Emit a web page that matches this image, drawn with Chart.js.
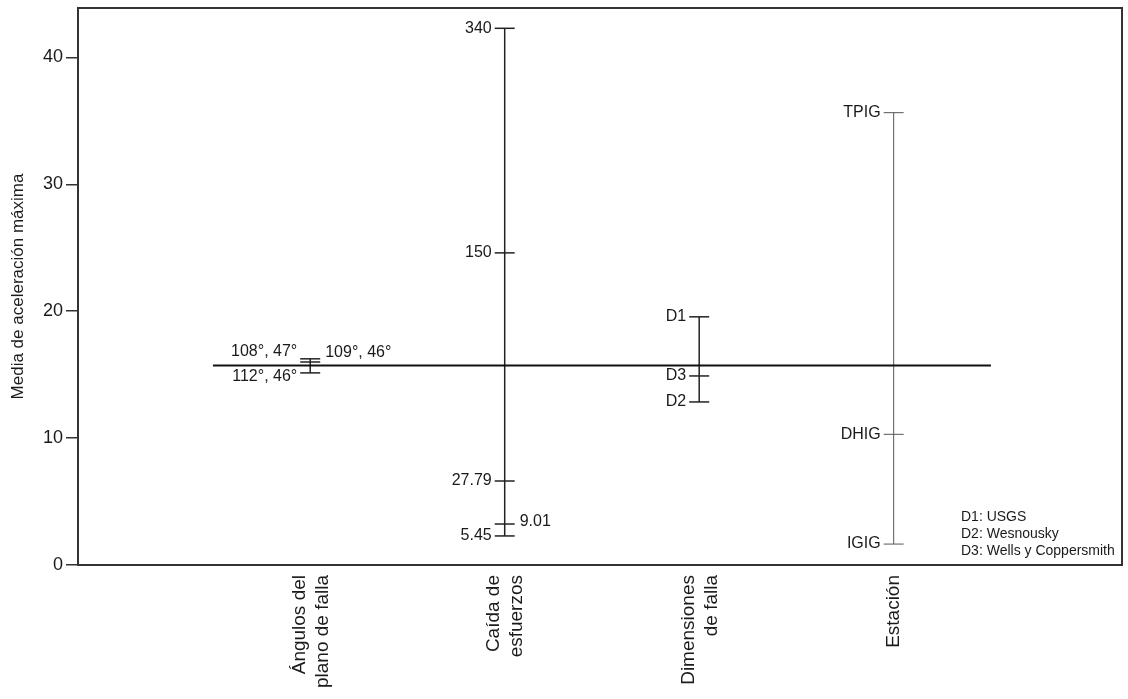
<!DOCTYPE html>
<html>
<head>
<meta charset="utf-8">
<script src="https://cdn.jsdelivr.net/npm/chart.js@4"></script>
<style>
  html, body { margin: 0; padding: 0; background: #fff; }
  canvas { display: block; }
</style>
</head>
<body>
<canvas id="c" width="1128" height="699"></canvas>
<script>
const FONT = '"Liberation Sans", Arial, sans-serif';

// categories on the x axis (positions 1..4)
const categories = [
  ['Ángulos del', 'plano de falla'],
  ['Caída de', 'esfuerzos'],
  ['Dimensiones', 'de falla'],
  'Estación'
];
const yTicks = [0, 10, 20, 30, 40];

// values (mean peak acceleration)
const anglesValues = [15.14, 16.0, 16.25];
const anglesLabels = ['112°, 46°', '108°, 47°', '109°, 46°'];

const stressValues = [2.29, 3.23, 6.62, 24.6, 42.3];
const stressLabels = ['5.45', '9.01', '27.79', '150', '340'];

const dimValues = [12.85, 14.9, 19.56];
const dimLabels = ['D2', 'D3', 'D1'];

const stationValues = [1.65, 10.3, 35.65];
const stationLabels = ['IGIG', 'DHIG', 'TPIG'];

const meanValue = 15.73;
const meanSpan = [0.5, 4.5];

const notes = ['D1: USGS', 'D2: Wesnousky', 'D3: Wells y Coppersmith'];

// label placement (side, vertical nudge in px) – kept apart from the data
const anglesSide = [['left', 4], ['left', -10], ['right', -6]];
const stressSide = [['left', 0], ['right', -2], ['left', 0], ['left', 0], ['left', 0]];
const dimSide = [['left', 0], ['left', 0], ['left', 0]];
const stationSide = [['left', 0], ['left', 0], ['left', 0]];

function rangeSet(pos, values, labels, sides, color, width) {
  return {
    data: values.map(v => ({ x: pos, y: v })),
    showLine: true,
    borderColor: color,
    borderWidth: width,
    pointStyle: 'line',
    pointRadius: 10,
    pointHoverRadius: 10,
    pointBorderColor: color,
    pointBorderWidth: width,
    labels: labels,
    sides: sides
  };
}

const pointLabels = {
  id: 'point-labels',
  afterDatasetsDraw(chart) {
    const ctx = chart.ctx;
    ctx.save();
    ctx.font = '16px ' + FONT;
    ctx.fillStyle = '#1a1a1a';
    ctx.textBaseline = 'middle';
    chart.data.datasets.forEach((ds, i) => {
      if (!ds.labels) return;
      const meta = chart.getDatasetMeta(i);
      meta.data.forEach((pt, j) => {
        const [side, dy] = ds.sides[j];
        if (side === 'left') {
          ctx.textAlign = 'right';
          ctx.fillText(ds.labels[j], pt.x - 13, pt.y + dy);
        } else {
          ctx.textAlign = 'left';
          ctx.fillText(ds.labels[j], pt.x + 15, pt.y + dy);
        }
      });
    });
    // source notes, bottom right
    const a = chart.chartArea;
    ctx.font = '14px ' + FONT;
    ctx.textAlign = 'left';
    notes.forEach((t, k) => {
      ctx.fillText(t, a.right - 161, a.bottom - 48 + k * 17);
    });
    ctx.restore();
  }
};

const frame = {
  id: 'frame',
  afterDraw(chart) {
    const { ctx, chartArea: a } = chart;
    ctx.save();
    ctx.strokeStyle = '#333';
    ctx.lineWidth = 2;
    ctx.strokeRect(a.left, a.top, a.right - a.left, a.bottom - a.top);
    ctx.restore();
  }
};

new Chart(document.getElementById('c'), {
  type: 'scatter',
  data: {
    datasets: [
      {
        data: meanSpan.map(x => ({ x, y: meanValue })),
        showLine: true,
        borderColor: '#111',
        borderWidth: 2,
        pointRadius: 0
      },
      rangeSet(1, anglesValues, anglesLabels, anglesSide, '#222', 1.5),
      rangeSet(2, stressValues, stressLabels, stressSide, '#222', 1.5),
      rangeSet(3, dimValues, dimLabels, dimSide, '#222', 1.5),
      rangeSet(4, stationValues, stationLabels, stationSide, '#555', 1)
    ]
  },
  options: {
    responsive: false,
    animation: false,
    layout: { autoPadding: false, padding: { top: 8, right: 6, left: 0, bottom: 0 } },
    plugins: {
      legend: { display: false },
      tooltip: { enabled: false }
    },
    scales: {
      x: {
        type: 'linear',
        min: -0.194,
        max: 5.174,
        afterBuildTicks(axis) {
          // two-line labels are nudged so that both lines sit centred on the category
          axis.ticks = categories.map((c, i) => ({ value: i + 1 - (Array.isArray(c) ? 0.055 : 0) }));
        },
        afterFit(axis) {
          axis.height = 134;
          axis.paddingLeft = 0;
          axis.paddingRight = 0;
        },
        grid: { display: false, drawTicks: false },
        border: { display: true, color: '#333', width: 2 },
        ticks: {
          autoSkip: false,
          minRotation: 90,
          maxRotation: 90,
          padding: 10,
          color: '#1a1a1a',
          font: { family: FONT, size: 19 },
          callback: (v, i) => categories[i]
        }
      },
      y: {
        min: 0,
        max: 43.9,
        afterBuildTicks(axis) {
          axis.ticks = yTicks.map(v => ({ value: v }));
        },
        afterFit(axis) {
          axis.width = 78;
          axis.paddingTop = 0;
          axis.paddingBottom = 0;
        },
        grid: { drawOnChartArea: false, drawTicks: true, tickLength: 12, color: '#333', lineWidth: 1.5 },
        border: { display: true, color: '#333', width: 2 },
        ticks: {
          padding: 3,
          color: '#1a1a1a',
          font: { family: FONT, size: 18 }
        },
        title: {
          display: true,
          text: 'Media de aceleración máxima',
          color: '#1a1a1a',
          font: { family: FONT, size: 17 },
          padding: { top: 8, bottom: 0 }
        }
      }
    }
  },
  plugins: [pointLabels, frame]
});
</script>
</body>
</html>
